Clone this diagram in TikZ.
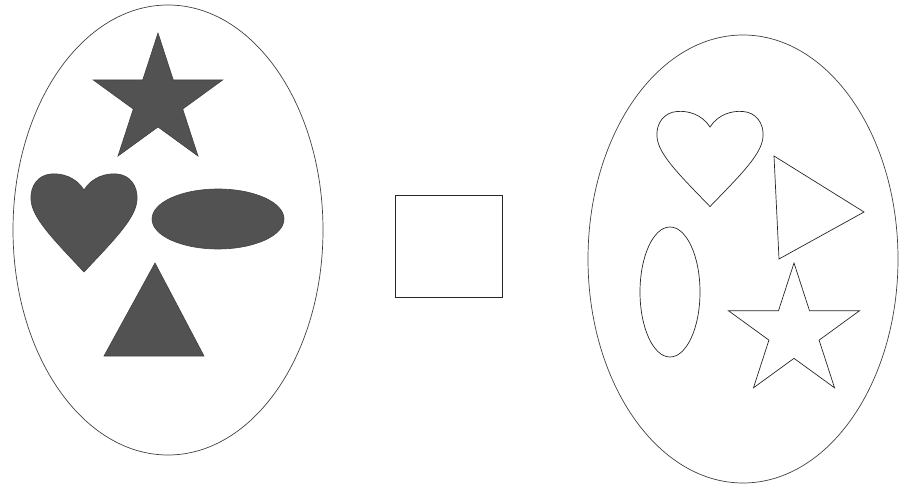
\documentclass[tikz,border=0pt]{standalone}
\usetikzlibrary{shapes.geometric}

\tikzset{
    pics/heart/.style={code={
        \path[pic actions] (0,0)
            .. controls (-8,-13) and (-22,-17) .. (-33,-16)
            .. controls (-46,-15) and (-54,-4) .. (-53,10)
            .. controls (-52,28) and (-30,50) .. (0,82)
            .. controls (30,50) and (52,28) .. (53,10)
            .. controls (54,-4) and (46,-15) .. (33,-16)
            .. controls (22,-17) and (8,-13) .. (0,0) -- cycle;
    }},
    pics/fivestar/.style={code={
        \path[pic actions] (270:#1)
            \foreach \k in {1,...,9} {
                -- ({270+36*\k}:{ifthenelse(mod(\k,2)==1,0.382*#1,#1)})
            } -- cycle;
    }}
}

\begin{document}
\begin{tikzpicture}[
    x=1pt, y=-1pt,
    oval/.style={draw=black!75, line width=0.7pt},
    solidshape/.style={fill=black!68, draw=black!75, line width=0.6pt},
    hollowshape/.style={draw=black!85, line width=0.7pt}
]

\useasboundingbox (0,0) rectangle (902,486);

% Left oval with filled shapes
\draw[oval] (168,230) ellipse [x radius=155, y radius=225];
\pic[solidshape] at (158,101) {fivestar=68};
\pic[solidshape] at (84,190) {heart};
\draw[solidshape] (218,219) ellipse [x radius=66, y radius=30];
\draw[solidshape] (155,263) -- (204,356) -- (104,356) -- cycle;

% Square in the middle
\draw[hollowshape] (395,195) rectangle (502,297);

% Right oval with outlined shapes
\draw[oval] (743,259) ellipse [x radius=155, y radius=224];
\pic[hollowshape, yscale=0.97] at (710,127) {heart};
\draw[hollowshape] (774,156) -- (864,212) -- (779,259) -- cycle;
\draw[hollowshape] (670,292) ellipse [x radius=30, y radius=65];
\pic[hollowshape] at (794,332) {fivestar=69};

\end{tikzpicture}
\end{document}
